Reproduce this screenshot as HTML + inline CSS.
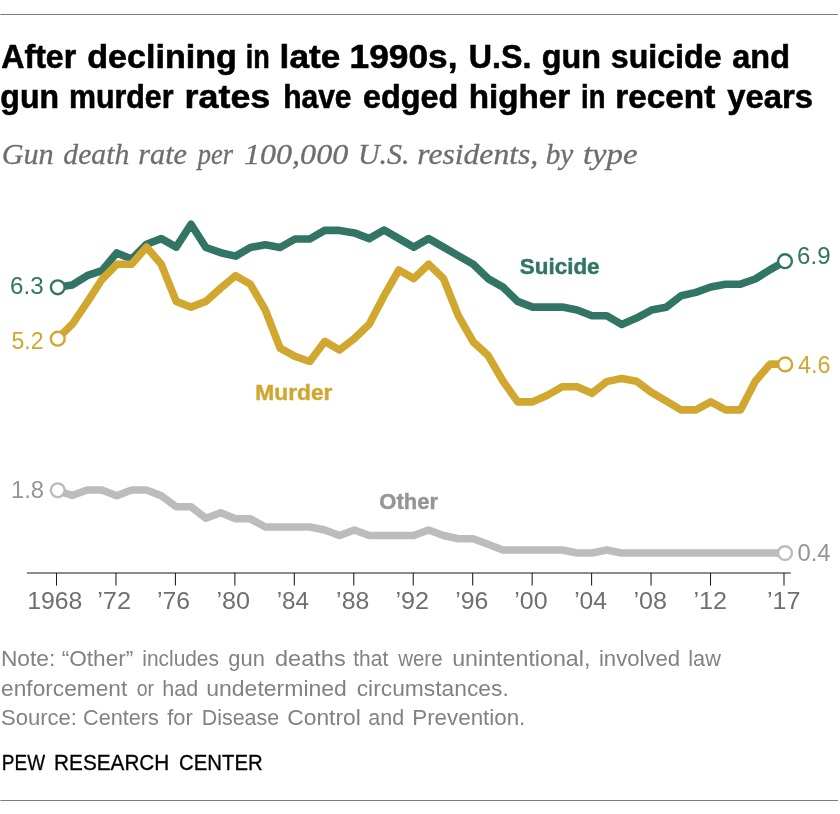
<!DOCTYPE html>
<html><head><meta charset="utf-8"><title>chart</title>
<style>
html,body{margin:0;padding:0;background:#fff;}
body{width:840px;height:814px;overflow:hidden;font-family:"Liberation Sans",sans-serif;}
svg{display:block;will-change:transform}
text{font-family:"Liberation Sans",sans-serif;}
.ttl{font-weight:bold;font-size:34px;stroke:#000;stroke-width:0.6px;}
.sub{font-family:"Liberation Serif",serif;font-style:italic;font-size:30px;stroke:#6d6e71;stroke-width:0.3px;}
.ax{font-size:23.5px;}
.val{font-size:24.4px;}
.ser{font-weight:bold;font-size:22.3px;stroke-width:0.45px;}
.note{font-size:21.3px;}
.pew{font-size:22.3px;stroke:#000;stroke-width:0.3px;}
</style></head><body>
<svg width="840" height="814" viewBox="0 0 840 814">
<rect width="840" height="814" fill="#fff"/>
<rect x="0.4" y="14" width="837.6" height="1" fill="#7d7d7d"/>
<rect x="0.4" y="800" width="837.6" height="1" fill="#7d7d7d"/>
<line x1="26.9" y1="573" x2="790.8" y2="573" stroke="#1a1a1a" stroke-width="1.1"/>
<line x1="56.50" y1="573" x2="56.50" y2="585.6" stroke="#1a1a1a" stroke-width="1.05"/>
<line x1="115.96" y1="573" x2="115.96" y2="585.6" stroke="#1a1a1a" stroke-width="1.05"/>
<line x1="175.41" y1="573" x2="175.41" y2="585.6" stroke="#1a1a1a" stroke-width="1.05"/>
<line x1="234.87" y1="573" x2="234.87" y2="585.6" stroke="#1a1a1a" stroke-width="1.05"/>
<line x1="294.32" y1="573" x2="294.32" y2="585.6" stroke="#1a1a1a" stroke-width="1.05"/>
<line x1="353.78" y1="573" x2="353.78" y2="585.6" stroke="#1a1a1a" stroke-width="1.05"/>
<line x1="413.24" y1="573" x2="413.24" y2="585.6" stroke="#1a1a1a" stroke-width="1.05"/>
<line x1="472.69" y1="573" x2="472.69" y2="585.6" stroke="#1a1a1a" stroke-width="1.05"/>
<line x1="532.15" y1="573" x2="532.15" y2="585.6" stroke="#1a1a1a" stroke-width="1.05"/>
<line x1="591.60" y1="573" x2="591.60" y2="585.6" stroke="#1a1a1a" stroke-width="1.05"/>
<line x1="651.06" y1="573" x2="651.06" y2="585.6" stroke="#1a1a1a" stroke-width="1.05"/>
<line x1="710.52" y1="573" x2="710.52" y2="585.6" stroke="#1a1a1a" stroke-width="1.05"/>
<line x1="784.00" y1="573" x2="784.00" y2="585.6" stroke="#1a1a1a" stroke-width="1.05"/>

<polyline points="57.4,490.3 72.2,495.5 87.1,490.0 101.9,490.0 116.8,495.8 131.6,490.0 146.5,490.0 161.3,495.8 176.2,506.8 191.0,506.8 205.9,518.2 220.7,512.7 235.6,518.8 250.4,518.8 265.3,527.0 280.1,527.0 295.0,527.0 309.8,527.0 324.7,530.0 339.5,535.5 354.4,530.0 369.2,535.5 384.1,535.5 398.9,535.5 413.8,535.5 428.6,530.0 443.5,535.5 458.3,538.8 473.2,538.8 488.0,544.2 502.9,550.0 517.7,550.0 532.6,550.0 547.4,550.0 562.3,550.0 577.1,553.0 592.0,553.0 606.8,550.0 621.7,553.0 636.5,553.0 651.4,553.0 666.2,553.0 681.1,553.0 695.9,553.0 710.8,553.0 725.6,553.0 740.5,553.0 755.3,553.0 770.2,553.0 785.0,553.1" fill="none" stroke="#BBBCBE" stroke-width="7.6" stroke-linejoin="round" stroke-linecap="butt"/>
<polyline points="57.4,287.3 72.2,284.9 87.1,275.7 101.9,270.6 116.8,252.9 131.6,259.1 146.5,244.3 161.3,238.6 176.2,247.1 191.0,224.3 205.9,247.5 220.7,252.7 235.6,256.1 250.4,247.5 265.3,244.7 280.1,247.5 295.0,239.0 309.8,239.0 324.7,230.4 339.5,230.4 354.4,232.9 369.2,238.6 384.1,230.0 398.9,238.6 413.8,247.1 428.6,238.6 443.5,247.1 458.3,255.7 473.2,264.3 488.0,278.6 502.9,287.1 517.7,301.4 532.6,307.1 547.4,307.1 562.3,307.1 577.1,310.0 592.0,315.7 606.8,315.7 621.7,324.5 636.5,318.1 651.4,310.1 666.2,307.2 681.1,295.8 695.9,292.4 710.8,287.0 725.6,284.2 740.5,284.2 755.3,279.0 770.2,269.6 785.0,261.2" fill="none" stroke="#327565" stroke-width="7.6" stroke-linejoin="round" stroke-linecap="butt"/>
<polyline points="57.4,338.7 72.2,324.3 87.1,302.4 101.9,279.5 116.8,264.3 131.6,264.3 146.5,247.1 161.3,264.3 176.2,301.4 191.0,307.1 205.9,301.4 220.7,288.1 235.6,275.7 250.4,284.3 265.3,310.0 280.1,348.1 295.0,356.4 309.8,361.5 324.7,341.4 339.5,350.0 354.4,338.6 369.2,324.3 384.1,295.7 398.9,270.0 413.8,278.6 428.6,264.3 443.5,278.6 458.3,315.7 473.2,341.9 488.0,355.4 502.9,381.0 517.7,401.9 532.6,401.9 547.4,395.2 562.3,386.7 577.1,386.7 592.0,393.3 606.8,381.6 621.7,378.4 636.5,381.3 651.4,392.4 666.2,401.0 681.1,409.9 695.9,409.9 710.8,401.9 725.6,409.9 740.5,409.9 755.3,381.2 770.2,364.0 785.0,364.4" fill="none" stroke="#D1A730" stroke-width="7.6" stroke-linejoin="round" stroke-linecap="butt"/>
<circle cx="57.75" cy="490.3" r="6.9" fill="#fff" stroke="#BBBCBE" stroke-width="2.4"/>
<circle cx="785" cy="553.1" r="6.9" fill="#fff" stroke="#BBBCBE" stroke-width="2.4"/>
<circle cx="57.75" cy="338.7" r="6.9" fill="#fff" stroke="#D1A730" stroke-width="2.4"/>
<circle cx="785.2" cy="364.4" r="6.9" fill="#fff" stroke="#D1A730" stroke-width="2.4"/>
<circle cx="57.75" cy="287.3" r="6.9" fill="#fff" stroke="#327565" stroke-width="2.4"/>
<circle cx="785" cy="261.2" r="6.9" fill="#fff" stroke="#327565" stroke-width="2.4"/>
<text x="1.30" y="68.20" class="ttl" fill="#000" textLength="74.92" lengthAdjust="spacingAndGlyphs">After</text>
<text x="87.30" y="68.20" class="ttl" fill="#000" textLength="149.47" lengthAdjust="spacingAndGlyphs">declining</text>
<text x="245.71" y="68.20" class="ttl" fill="#000" textLength="23.99" lengthAdjust="spacingAndGlyphs">in</text>
<text x="279.63" y="68.20" class="ttl" fill="#000" textLength="60.61" lengthAdjust="spacingAndGlyphs">late</text>
<text x="349.63" y="68.20" class="ttl" fill="#000" textLength="107.87" lengthAdjust="spacingAndGlyphs">1990s,</text>
<text x="468.81" y="68.20" class="ttl" fill="#000" textLength="62.56" lengthAdjust="spacingAndGlyphs">U.S.</text>
<text x="541.75" y="68.20" class="ttl" fill="#000" textLength="59.23" lengthAdjust="spacingAndGlyphs">gun</text>
<text x="610.75" y="68.20" class="ttl" fill="#000" textLength="110.81" lengthAdjust="spacingAndGlyphs">suicide</text>
<text x="732.35" y="68.20" class="ttl" fill="#000" textLength="57.64" lengthAdjust="spacingAndGlyphs">and</text>
<text x="0.36" y="107.90" class="ttl" fill="#000" textLength="58.60" lengthAdjust="spacingAndGlyphs">gun</text>
<text x="68.91" y="107.90" class="ttl" fill="#000" textLength="104.59" lengthAdjust="spacingAndGlyphs">murder</text>
<text x="184.59" y="107.90" class="ttl" fill="#000" textLength="85.67" lengthAdjust="spacingAndGlyphs">rates</text>
<text x="283.24" y="107.90" class="ttl" fill="#000" textLength="68.26" lengthAdjust="spacingAndGlyphs">have</text>
<text x="363.05" y="107.90" class="ttl" fill="#000" textLength="95.34" lengthAdjust="spacingAndGlyphs">edged</text>
<text x="468.75" y="107.90" class="ttl" fill="#000" textLength="101.48" lengthAdjust="spacingAndGlyphs">higher</text>
<text x="581.09" y="107.90" class="ttl" fill="#000" textLength="24.34" lengthAdjust="spacingAndGlyphs">in</text>
<text x="615.34" y="107.90" class="ttl" fill="#000" textLength="99.98" lengthAdjust="spacingAndGlyphs">recent</text>
<text x="727.30" y="107.90" class="ttl" fill="#000" textLength="85.58" lengthAdjust="spacingAndGlyphs">years</text>
<text x="1.69" y="163.50" class="sub" fill="#6d6e71" textLength="52.01" lengthAdjust="spacingAndGlyphs">Gun</text>
<text x="63.30" y="163.50" class="sub" fill="#6d6e71" textLength="65.99" lengthAdjust="spacingAndGlyphs">death</text>
<text x="138.29" y="163.50" class="sub" fill="#6d6e71" textLength="48.73" lengthAdjust="spacingAndGlyphs">rate</text>
<text x="197.76" y="163.50" class="sub" fill="#6d6e71" textLength="35.25" lengthAdjust="spacingAndGlyphs">per</text>
<text x="243.93" y="163.50" class="sub" fill="#6d6e71" textLength="104.37" lengthAdjust="spacingAndGlyphs">100,000</text>
<text x="358.01" y="163.50" class="sub" fill="#6d6e71" textLength="51.48" lengthAdjust="spacingAndGlyphs">U.S.</text>
<text x="417.24" y="163.50" class="sub" fill="#6d6e71" textLength="121.04" lengthAdjust="spacingAndGlyphs">residents,</text>
<text x="545.73" y="163.50" class="sub" fill="#6d6e71" textLength="27.61" lengthAdjust="spacingAndGlyphs">by</text>
<text x="582.90" y="163.50" class="sub" fill="#6d6e71" textLength="54.74" lengthAdjust="spacingAndGlyphs">type</text>
<text x="0.93" y="666.00" class="note" fill="#808285" textLength="54.42" lengthAdjust="spacingAndGlyphs">Note:</text>
<text x="61.70" y="666.00" class="note" fill="#808285" textLength="71.70" lengthAdjust="spacingAndGlyphs">“Other”</text>
<text x="142.32" y="666.00" class="note" fill="#808285" textLength="76.62" lengthAdjust="spacingAndGlyphs">includes</text>
<text x="228.30" y="666.00" class="note" fill="#808285" textLength="36.57" lengthAdjust="spacingAndGlyphs">gun</text>
<text x="275.00" y="666.00" class="note" fill="#808285" textLength="70.72" lengthAdjust="spacingAndGlyphs">deaths</text>
<text x="353.30" y="666.00" class="note" fill="#808285" textLength="34.92" lengthAdjust="spacingAndGlyphs">that</text>
<text x="398.26" y="666.00" class="note" fill="#808285" textLength="44.25" lengthAdjust="spacingAndGlyphs">were</text>
<text x="452.21" y="666.00" class="note" fill="#808285" textLength="138.18" lengthAdjust="spacingAndGlyphs">unintentional,</text>
<text x="598.96" y="666.00" class="note" fill="#808285" textLength="81.22" lengthAdjust="spacingAndGlyphs">involved</text>
<text x="688.28" y="666.00" class="note" fill="#808285" textLength="32.59" lengthAdjust="spacingAndGlyphs">law</text>
<text x="1.10" y="695.90" class="note" fill="#808285" textLength="126.11" lengthAdjust="spacingAndGlyphs">enforcement</text>
<text x="136.70" y="695.90" class="note" fill="#808285" textLength="17.38" lengthAdjust="spacingAndGlyphs">or</text>
<text x="162.29" y="695.90" class="note" fill="#808285" textLength="35.86" lengthAdjust="spacingAndGlyphs">had</text>
<text x="206.22" y="695.90" class="note" fill="#808285" textLength="140.69" lengthAdjust="spacingAndGlyphs">undetermined</text>
<text x="356.70" y="695.90" class="note" fill="#808285" textLength="152.05" lengthAdjust="spacingAndGlyphs">circumstances.</text>
<text x="1.10" y="725.20" class="note" fill="#808285" textLength="75.88" lengthAdjust="spacingAndGlyphs">Source:</text>
<text x="82.98" y="725.20" class="note" fill="#808285" textLength="75.98" lengthAdjust="spacingAndGlyphs">Centers</text>
<text x="167.30" y="725.20" class="note" fill="#808285" textLength="25.49" lengthAdjust="spacingAndGlyphs">for</text>
<text x="201.69" y="725.20" class="note" fill="#808285" textLength="77.46" lengthAdjust="spacingAndGlyphs">Disease</text>
<text x="287.23" y="725.20" class="note" fill="#808285" textLength="73.56" lengthAdjust="spacingAndGlyphs">Control</text>
<text x="368.30" y="725.20" class="note" fill="#808285" textLength="35.85" lengthAdjust="spacingAndGlyphs">and</text>
<text x="412.25" y="725.20" class="note" fill="#808285" textLength="113.06" lengthAdjust="spacingAndGlyphs">Prevention.</text>
<text x="1.85" y="769.80" class="pew" fill="#000" textLength="43.19" lengthAdjust="spacingAndGlyphs">PEW</text>
<text x="54.07" y="769.80" class="pew" fill="#000" textLength="115.26" lengthAdjust="spacingAndGlyphs">RESEARCH</text>
<text x="179.09" y="769.80" class="pew" fill="#000" textLength="83.71" lengthAdjust="spacingAndGlyphs">CENTER</text>
<text x="10.01" y="294.30" class="val" fill="#327565" textLength="33.65" lengthAdjust="spacingAndGlyphs">6.3</text>
<text x="11.50" y="348.50" class="val" fill="#D1A730" textLength="32.14" lengthAdjust="spacingAndGlyphs">5.2</text>
<text x="10.92" y="497.50" class="val" fill="#939598" textLength="33.13" lengthAdjust="spacingAndGlyphs">1.8</text>
<text x="797.11" y="264.30" class="val" fill="#327565" textLength="33.44" lengthAdjust="spacingAndGlyphs">6.9</text>
<text x="798.10" y="372.60" class="val" fill="#D1A730" textLength="32.44" lengthAdjust="spacingAndGlyphs">4.6</text>
<text x="797.50" y="560.80" class="val" fill="#939598" textLength="33.05" lengthAdjust="spacingAndGlyphs">0.4</text>
<text x="519.80" y="273.50" class="ser" fill="#327565" stroke="#327565" textLength="79.80" lengthAdjust="spacingAndGlyphs">Suicide</text>
<text x="255.38" y="399.75" class="ser" fill="#D1A730" stroke="#D1A730" textLength="76.99" lengthAdjust="spacingAndGlyphs">Murder</text>
<text x="379.30" y="508.50" class="ser" fill="#939598" stroke="#939598" textLength="58.68" lengthAdjust="spacingAndGlyphs">Other</text>
<text x="27.25" y="609.25" class="ax" fill="#6e6f71" textLength="55.13" lengthAdjust="spacingAndGlyphs">1968</text>
<text x="97.22" y="609.25" class="ax" fill="#6e6f71" textLength="33.94" lengthAdjust="spacingAndGlyphs">’72</text>
<text x="156.94" y="609.25" class="ax" fill="#6e6f71" textLength="33.13" lengthAdjust="spacingAndGlyphs">’76</text>
<text x="216.43" y="609.25" class="ax" fill="#6e6f71" textLength="33.65" lengthAdjust="spacingAndGlyphs">’80</text>
<text x="276.67" y="609.25" class="ax" fill="#6e6f71" textLength="32.30" lengthAdjust="spacingAndGlyphs">’84</text>
<text x="336.14" y="609.25" class="ax" fill="#6e6f71" textLength="33.13" lengthAdjust="spacingAndGlyphs">’88</text>
<text x="395.43" y="609.25" class="ax" fill="#6e6f71" textLength="33.62" lengthAdjust="spacingAndGlyphs">’92</text>
<text x="455.24" y="609.25" class="ax" fill="#6e6f71" textLength="33.13" lengthAdjust="spacingAndGlyphs">’96</text>
<text x="514.24" y="609.25" class="ax" fill="#6e6f71" textLength="33.34" lengthAdjust="spacingAndGlyphs">’00</text>
<text x="574.15" y="609.25" class="ax" fill="#6e6f71" textLength="32.92" lengthAdjust="spacingAndGlyphs">’04</text>
<text x="633.43" y="609.25" class="ax" fill="#6e6f71" textLength="33.54" lengthAdjust="spacingAndGlyphs">’08</text>
<text x="693.53" y="609.25" class="ax" fill="#6e6f71" textLength="33.62" lengthAdjust="spacingAndGlyphs">’12</text>
<text x="767.03" y="609.25" class="ax" fill="#6e6f71" textLength="33.51" lengthAdjust="spacingAndGlyphs">’17</text>
</svg>
</body></html>
